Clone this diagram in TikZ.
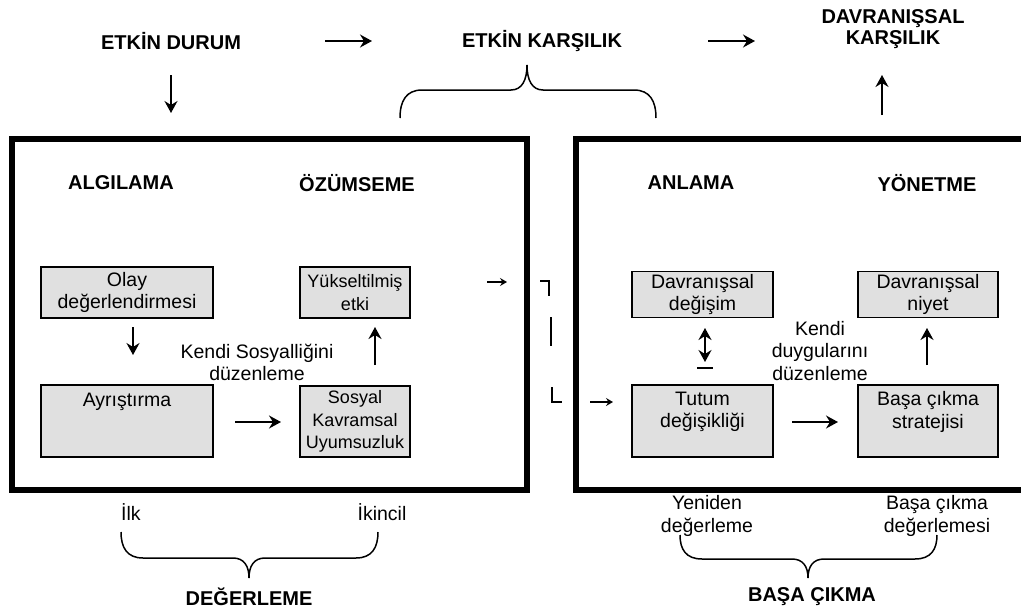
\documentclass[tikz,border=0pt]{standalone}
\usepackage{fontspec}
\setmainfont{Liberation Sans}
\usetikzlibrary{arrows.meta}
\definecolor{boxgray}{RGB}{224,224,224}

% curly brace: x-left, x-right, y of the ends, y of the straight part, x and y of the tip
\newcommand{\curlybrace}[6]{%
  \draw[bracestroke] (#1,#3) .. controls (#1,{#3+0.6*(#4-#3)}) and ({#1+6},#4) .. ({#1+22},#4)
    -- ({#5-16},#4) .. controls ({#5-5},#4) and (#5,{#4+0.4*(#6-#4)}) .. (#5,#6)
    .. controls (#5,{#4+0.4*(#6-#4)}) and ({#5+5},#4) .. ({#5+16},#4)
    -- ({#2-22},#4) .. controls ({#2-6},#4) and (#2,{#3+0.6*(#4-#3)}) .. (#2,#3);}

\begin{document}
\begin{tikzpicture}[x=1pt,y=-1pt,
  every node/.style={font=\fontsize{19.5}{22.5}\selectfont, inner sep=0pt, align=center},
  narrowtext/.style={font=\fontsize{18}{22.5}\selectfont},
  headtext/.style={font=\fontsize{20}{21}\selectfont\bfseries},
  bigframe/.style={draw, line width=6pt, rectangle, inner sep=0pt},
  gbox/.style={draw, line width=1.6pt, fill=boxgray, rectangle, inner sep=0pt},
  arr/.style={line width=1.8pt, -{Stealth[length=12pt,width=13pt,inset=4pt]}},
  sarr/.style={line width=1.2pt, -{Stealth[length=7pt,width=8pt,inset=2.5pt]}},
  glyph/.style={line width=1.8pt},
  bracestroke/.style={line width=1.5pt}
]
\useasboundingbox (0,0) rectangle (1021,614);

% the two stage frames
\node[bigframe, minimum width=514.5pt, minimum height=350.5pt] (apprframe) at (269.25,314.25) {};
\node[bigframe, minimum width=454pt, minimum height=350.5pt] (copeframe) at (803,314.25) {};

% top row
\node[headtext] (state) at (171,41) {ETKİN DURUM};
\node[headtext] (affresp) at (542,41) {ETKİN KARŞILIK};
\node[headtext] (behresp) at (893,29.5) {DAVRANIŞSAL\\KARŞILIK};

\coordinate (s1a) at (325,41);  \coordinate (s1b) at (372,41);
\coordinate (s2a) at (708,41);  \coordinate (s2b) at (755,41);
\coordinate (d1a) at (171,75);  \coordinate (d1b) at (171,113);
\coordinate (u1a) at (882,115); \coordinate (u1b) at (882,75);
\draw[arr] (s1a) -- (s1b);
\draw[arr] (s2a) -- (s2b);
\draw[arr] (d1a) -- (d1b);
\draw[arr] (u1a) -- (u1b);

\curlybrace{400}{656}{118}{90}{527}{65}

% stage headings
\node[headtext] (algi) at (121,183) {ALGILAMA};
\node[headtext] (ozum) at (357,183) {ÖZÜMSEME};
\node[headtext] (anla) at (691,183) {ANLAMA};
\node[headtext] (yone) at (927,183) {YÖNETME};

% appraisal boxes
\node[gbox, minimum width=172pt, minimum height=51pt] (olay) at (127,292.5) {Olay\\değerlendirmesi};
\node[gbox, narrowtext, minimum width=110pt, minimum height=51pt] (yuks) at (355,292.5) {Yükseltilmiş\\etki};
\node[gbox, minimum width=172pt, minimum height=72pt] (ayri) at (127,421) {};
\node (ayritext) at (127,402) {Ayrıştırma};
\node[gbox, narrowtext, minimum width=110pt, minimum height=71pt] (sosy) at (355,421.5) {Sosyal\\Kavramsal\\Uyumsuzluk};
\node (kendis) at (257,362.5) {Kendi Sosyalliğini\\düzenleme};

\coordinate (d2a) at (133,327); \coordinate (d2b) at (133,355);
\coordinate (u2a) at (375,365); \coordinate (u2b) at (375,327);
\coordinate (r1a) at (235,422); \coordinate (r1b) at (281,422);
\coordinate (r2a) at (487,282); \coordinate (r2b) at (507,282);
\draw[arr] (d2a) -- (d2b);
\draw[arr] (u2a) -- (u2b);
\draw[arr] (r1a) -- (r1b);
\draw[sarr] (r2a) -- (r2b);

% link marks between the frames
\draw[glyph] (540,281) -- (549,281) -- (549,296);
\draw[glyph] (551,317) -- (551,346);
\draw[glyph] (552,387) -- (552,402) -- (562,402);

% coping boxes
\node[gbox, minimum width=141pt, minimum height=46pt] (dchg) at (702.5,294.5) {Davranışsal\\değişim};
\node[gbox, minimum width=140pt, minimum height=46pt] (dniy) at (928,294.5) {Davranışsal\\niyet};
\node[gbox, minimum width=141pt, minimum height=72pt] (tutu) at (702.5,421) {};
\node (tututext) at (702.5,412) {Tutum\\değişikliği};
\node[gbox, minimum width=140pt, minimum height=72pt] (basa) at (928,421) {};
\node (basatext) at (928,412) {Başa çıkma\\stratejisi};
\node (kendid) at (820,351) {Kendi\\duygularını\\düzenleme};

\coordinate (r3a) at (590,402); \coordinate (r3b) at (613,402);
\coordinate (r4a) at (792,422); \coordinate (r4b) at (838,422);
\coordinate (u3a) at (927,365); \coordinate (u3b) at (927,328);
\coordinate (v1a) at (705,328); \coordinate (v1b) at (705,362);
\draw[sarr] (r3a) -- (r3b);
\draw[arr] (r4a) -- (r4b);
\draw[arr] (u3a) -- (u3b);
\draw[line width=1.8pt, {Stealth[length=12pt,width=13pt,inset=4pt]}-{Stealth[length=12pt,width=13pt,inset=4pt]}] (v1a) -- (v1b);
\draw[glyph] (697,368) -- (713,368);

% bottom labels and braces
\node[anchor=west] (ilk) at (121,512) {İlk};
\node (ikin) at (382,512) {İkincil};
\curlybrace{121}{378}{532}{558}{249}{578}
\node[headtext] (degr) at (249,597) {DEĞERLEME};

\node (yeni) at (707,516) {Yeniden\\değerleme};
\node (basd) at (937,516) {Başa çıkma\\değerlemesi};
\curlybrace{680}{937}{535}{559}{808}{578}
\node[headtext] (basc) at (812,597) {BAŞA ÇIKMA};
\end{tikzpicture}
\end{document}
